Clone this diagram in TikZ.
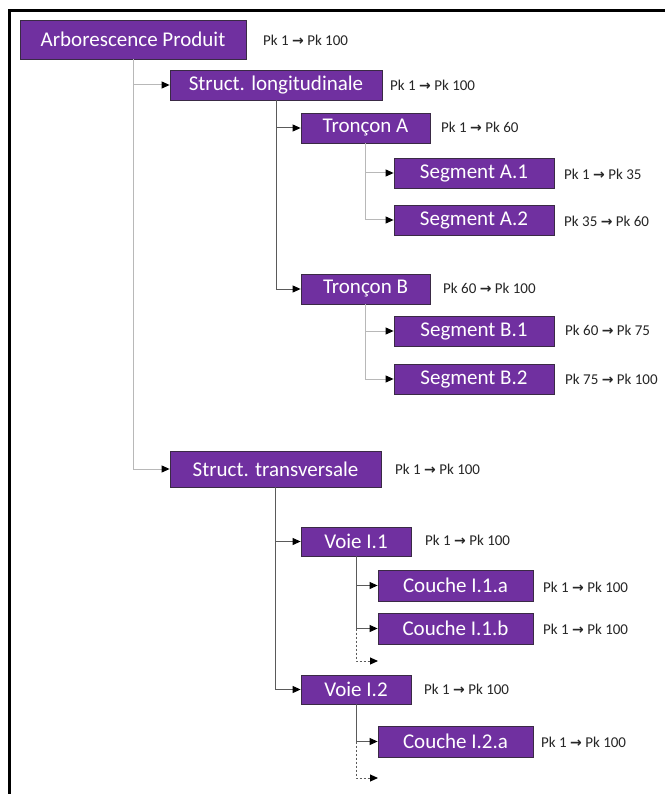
\documentclass[tikz,border=0pt]{standalone}
\usepackage{fontspec}
\setmainfont{Carlito}
\newfontfamily\symfont{DejaVu Sans}
\usetikzlibrary{arrows.meta}
\definecolor{boxpurple}{HTML}{7030A0}
\definecolor{boxedge}{HTML}{3A2A45}
\definecolor{linelight}{HTML}{B8B8B8}
\definecolor{linedark}{HTML}{5A5A5A}
\definecolor{labeltext}{HTML}{262626}
\newcommand{\pkarr}{{\symfont\bfseries\fontsize{14}{14}\selectfont →}}
\tikzset{
  pbox/.style={rectangle, fill=boxpurple, draw=boxedge, line width=0.8pt, text=white,
    font=\fontsize{21}{21}\selectfont, inner sep=0pt, anchor=center},
  pklabel/.style={anchor=west, inner sep=0pt, text=labeltext, font=\fontsize{15}{15}\selectfont},
  conn/.style={line width=1pt, -{Triangle[length=8pt,width=7pt,color=black]}},
  lightc/.style={conn, draw=linelight},
  darkc/.style={conn, draw=linedark},
  stubc/.style={conn, draw=linedark, dashed, dash pattern=on 2pt off 2pt}
}
\begin{document}
\begin{tikzpicture}[x=1pt,y=-1pt]
\useasboundingbox (0,0) rectangle (665,794);
\fill[white] (0,0) rectangle (665,794);
% frame
\draw[line width=3pt, black] (9.5,794) -- (9.5,10.5) -- (665,10.5);

% boxes
\node[pbox, minimum width=226pt, minimum height=39pt] (root) at (133,39.5) {Arborescence Produit};
\node[pbox, minimum width=212pt, minimum height=30pt] (sl) at (276,85) {Struct. longitudinale};
\node[pbox, minimum width=129pt, minimum height=30pt] (ta) at (365.5,128) {Tronçon A};
\node[pbox, minimum width=160pt, minimum height=30pt] (sa1) at (474,173) {Segment A.1};
\node[pbox, minimum width=160pt, minimum height=30pt] (sa2) at (474,220) {Segment A.2};
\node[pbox, minimum width=129pt, minimum height=30pt] (tb) at (365.5,289) {Tronçon B};
\node[pbox, minimum width=160pt, minimum height=30pt] (sb1) at (474,331) {Segment B.1};
\node[pbox, minimum width=160pt, minimum height=30pt] (sb2) at (474,379) {Segment B.2};
\node[pbox, minimum width=211pt, minimum height=36pt] (st) at (275.5,469) {Struct. transversale};
\node[pbox, minimum width=110pt, minimum height=29pt] (v1) at (356,541.5) {Voie I.1};
\node[pbox, minimum width=155pt, minimum height=31pt] (c1a) at (455.5,585.5) {Couche I.1.a};
\node[pbox, minimum width=155pt, minimum height=31pt] (c1b) at (455.5,628.5) {Couche I.1.b};
\node[pbox, minimum width=110pt, minimum height=29pt] (v2) at (356,689.5) {Voie I.2};
\node[pbox, minimum width=155pt, minimum height=31pt] (c2a) at (455.5,741.5) {Couche I.2.a};

% labels
\node[pklabel] (l0) at (263,40) {Pk 1 \pkarr{} Pk 100};
\node[pklabel] (l1) at (390,85) {Pk 1 \pkarr{} Pk 100};
\node[pklabel] (l2) at (441,127) {Pk 1 \pkarr{} Pk 60};
\node[pklabel] (l3) at (564,174) {Pk 1 \pkarr{} Pk 35};
\node[pklabel] (l4) at (564,221) {Pk 35 \pkarr{} Pk 60};
\node[pklabel] (l5) at (443,288) {Pk 60 \pkarr{} Pk 100};
\node[pklabel] (l6) at (565,330) {Pk 60 \pkarr{} Pk 75};
\node[pklabel] (l7) at (565,379) {Pk 75 \pkarr{} Pk 100};
\node[pklabel] (l8) at (395,469) {Pk 1 \pkarr{} Pk 100};
\node[pklabel] (l9) at (425,540) {Pk 1 \pkarr{} Pk 100};
\node[pklabel] (l10) at (543,587) {Pk 1 \pkarr{} Pk 100};
\node[pklabel] (l11) at (543,629) {Pk 1 \pkarr{} Pk 100};
\node[pklabel] (l12) at (424,689) {Pk 1 \pkarr{} Pk 100};
\node[pklabel] (l13) at (541,742) {Pk 1 \pkarr{} Pk 100};

% stub ends
\coordinate (d1) at (378,661);
\coordinate (d2) at (378,778);

% connectors
\draw[lightc] (root.south) |- (st.west);
\draw[lightc] (root.south) |- (sl.west);
\draw[darkc] (sl.south) |- (tb.west);
\draw[darkc] (sl.south) |- (ta.west);
\draw[lightc] (ta.south) |- (sa2.west);
\draw[lightc] (ta.south) |- (sa1.west);
\draw[lightc] (tb.south) |- (sb2.west);
\draw[lightc] (tb.south) |- (sb1.west);
\draw[darkc] (st.south) |- (v2.west);
\draw[darkc] (st.south) |- (v1.west);
\draw[darkc] (v1.south) |- (c1b.west);
\draw[darkc] (v1.south) |- (c1a.west);
\draw[stubc] (v1.south |- c1b.west) |- (d1);
\draw[darkc] (v2.south) |- (c2a.west);
\draw[stubc] (v2.south |- c2a.west) |- (d2);
\end{tikzpicture}
\end{document}
